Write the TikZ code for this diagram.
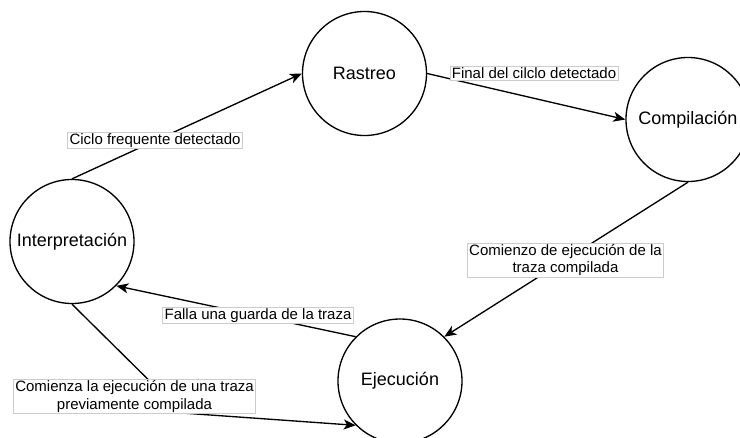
\documentclass[tikz,border=0pt]{standalone}
\usepackage{fontspec}
\setmainfont{Liberation Sans}
\usepackage{tikz}
\usetikzlibrary{arrows.meta}
\tikzset{state/.style={circle,draw,line width=1pt,minimum size=93pt,inner sep=0pt,font=\fontsize{13.5}{16}\selectfont}}
\tikzset{trans/.style={-{Stealth[length=9pt,width=7.5pt,inset=2.5pt]},line width=1pt}}
\tikzset{lbl/.style={draw=gray!40,line width=0.5pt,fill=white,inner xsep=1.5pt,inner ysep=1pt,align=center,font=\fontsize{11.25}{13}\selectfont}}

\begin{document}
\begin{tikzpicture}[x=0.75pt,y=-0.75pt]
\useasboundingbox (0,0) rectangle (740,437);
\clip (0,0) rectangle (740,437);
\node[state] (rast) at (364.5,73.5) {Rastreo};
\node[state] (comp) at (688,119.5) {Compilación};
\node[state] (interp) at (72,241.5) {Interpretación};
\node[state] (ejec) at (400,381) {Ejecución};
\coordinate (bend) at (182,413);
\draw[trans] (interp.north) -- (rast.west);
\draw[trans] (rast.east) -- (comp.west);
\draw[trans] (comp.south) -- (ejec.north east);
\draw[trans] (ejec.north west) -- (interp.south east);
\draw[trans] (interp.south) -- (bend) -- (ejec.south west);
%labels on top of the lines
\node[lbl] (ciclo) at (155,140.5) {Ciclo frequente detectado};
\node[lbl] (final) at (534,73.5) {Final del cilclo detectado};
\node[lbl] (comienzo) at (565.5,260) {Comienzo de ejecución de la\\traza compilada};
\node[lbl] (falla) at (258,315.5) {Falla una guarda de la traza};
\node[lbl] (previa) at (134.5,396.5) {Comienza la ejecución de una traza\\previamente compilada};
\end{tikzpicture}
\end{document}
